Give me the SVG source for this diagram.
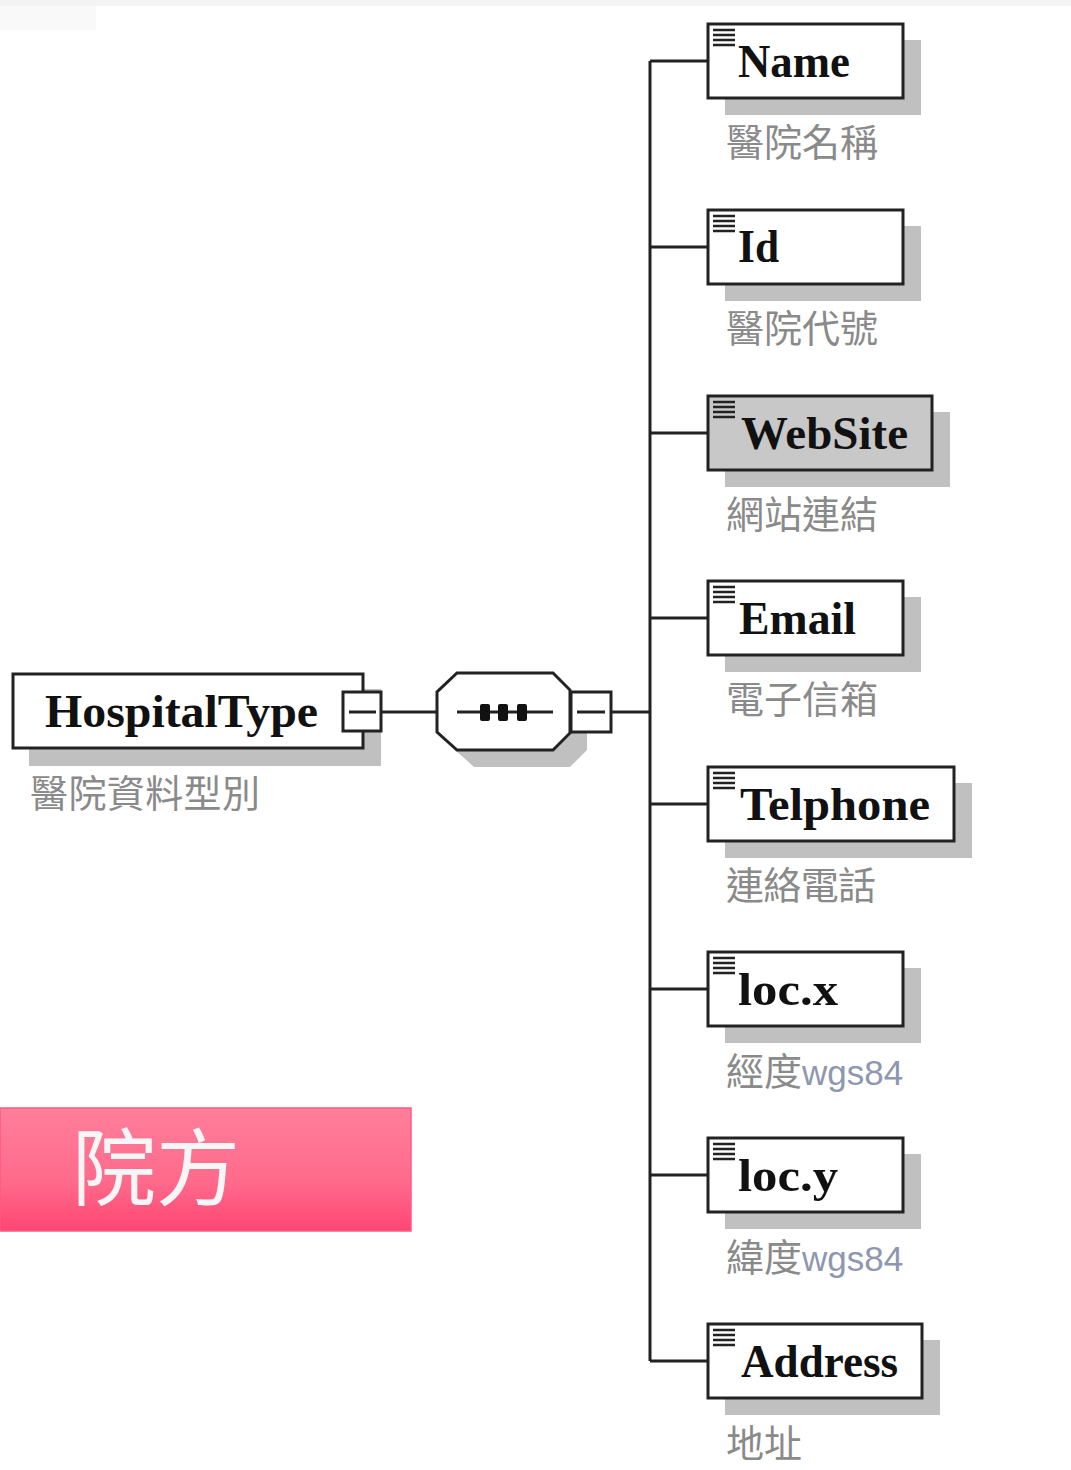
<svg xmlns="http://www.w3.org/2000/svg" width="1071" height="1470" viewBox="0 0 1071 1470">
<defs>
<linearGradient id="pink" x1="0" y1="0" x2="0" y2="1">
<stop offset="0" stop-color="#ff7f9b"/>
<stop offset="0.6" stop-color="#ff6a8b"/>
<stop offset="1" stop-color="#ff4674"/>
</linearGradient>
<g id="icon"><path d="M5 6h22M5 11h22M5 16h22M5 21h22" stroke="#222" stroke-width="2.4" fill="none"/></g>
</defs>
<style>
.box{fill:#fff;stroke:#222;stroke-width:3}
.shadow{fill:#c0c0c0}
.name{font-family:"Liberation Serif","Times New Roman",serif;font-weight:bold;font-size:47px;fill:#111}
.desc{font-family:"Liberation Sans","Noto Sans CJK TC",sans-serif;font-size:38px;fill:#8a8a8a}
.wgs{font-size:35px;fill:#8e97b0}
.wire{stroke:#222;stroke-width:3;fill:none}
</style>
<rect x="0" y="0" width="1071" height="6" fill="#f4f4f4"/>
<rect x="0" y="6" width="96" height="24" fill="#f9f9f9"/>

<g id="connectors">
<path class="wire" d="M381 712H440M611 712H650M650 61V1361"/>
<path class="wire" d="M650 61H708M650 247H708M650 433H708M650 618H708M650 804H708M650 989H708M650 1175H708M650 1361H708"/>
</g>

<g id="HospitalType">
<rect class="shadow" x="29" y="689" width="352" height="77"/>
<rect class="box" x="13" y="674" width="350" height="74"/>
<text class="name" x="45" y="727" textLength="273" lengthAdjust="spacingAndGlyphs">HospitalType</text>
<rect class="box" x="343" y="692" width="38" height="39"/>
<path class="wire" d="M349 712H376"/>
<text class="desc" x="30" y="807" textLength="230">醫院資料型別</text>
</g>

<g id="sequence">
<path class="shadow" d="M474 690H570L587 707V750L570 767H474L454 749V709Z"/>
<path d="M457 673H553L570 690V733L553 750H457L437 732V692Z" fill="#fff" stroke="#222" stroke-width="3"/>
<path class="wire" d="M457 712H553"/>
<rect x="480" y="704" width="10" height="17" rx="2" fill="#111"/>
<rect x="498" y="704" width="10" height="17" rx="2" fill="#111"/>
<rect x="517" y="704" width="10" height="17" rx="2" fill="#111"/>
<rect class="box" x="571" y="692" width="40" height="40"/>
<path class="wire" d="M577 712H605"/>
</g>

<g id="Name">
<rect class="shadow" x="725" y="40" width="196" height="75"/>
<rect class="box" x="708" y="24" width="195" height="74"/>
<use href="#icon" x="708" y="24"/>
<text class="name" x="738" y="77" textLength="112" lengthAdjust="spacingAndGlyphs">Name</text>
<text class="desc" x="726" y="156" textLength="152">醫院名稱</text>
</g>

<g id="Id">
<rect class="shadow" x="725" y="226" width="196" height="75"/>
<rect class="box" x="708" y="210" width="195" height="74"/>
<use href="#icon" x="708" y="210"/>
<text class="name" x="738" y="262" textLength="41" lengthAdjust="spacingAndGlyphs">Id</text>
<text class="desc" x="726" y="342" textLength="152">醫院代號</text>
</g>

<g id="WebSite">
<rect class="shadow" x="725" y="412" width="225" height="75"/>
<rect class="box" x="708" y="396" width="224" height="74" style="fill:#c8c8c8"/>
<use href="#icon" x="708" y="396"/>
<text class="name" x="741" y="449" textLength="167" lengthAdjust="spacingAndGlyphs">WebSite</text>
<text class="desc" x="726" y="528" textLength="152">網站連結</text>
</g>

<g id="Email">
<rect class="shadow" x="725" y="597" width="196" height="75"/>
<rect class="box" x="708" y="581" width="195" height="74"/>
<use href="#icon" x="708" y="581"/>
<text class="name" x="739" y="634" textLength="117" lengthAdjust="spacingAndGlyphs">Email</text>
<text class="desc" x="726" y="713" textLength="152">電子信箱</text>
</g>

<g id="Telphone">
<rect class="shadow" x="725" y="783" width="247" height="75"/>
<rect class="box" x="708" y="767" width="246" height="74"/>
<use href="#icon" x="708" y="767"/>
<text class="name" x="740" y="820" textLength="190" lengthAdjust="spacingAndGlyphs">Telphone</text>
<text class="desc" x="726" y="899" textLength="150">連絡電話</text>
</g>

<g id="locx">
<rect class="shadow" x="725" y="968" width="196" height="75"/>
<rect class="box" x="708" y="952" width="195" height="74"/>
<use href="#icon" x="708" y="952"/>
<text class="name" x="738" y="1005" textLength="100" lengthAdjust="spacingAndGlyphs">loc.x</text>
<text class="desc" x="726" y="1085">經度<tspan class="wgs">wgs84</tspan></text>
</g>

<g id="locy">
<rect class="shadow" x="725" y="1154" width="196" height="75"/>
<rect class="box" x="708" y="1138" width="195" height="74"/>
<use href="#icon" x="708" y="1138"/>
<text class="name" x="738" y="1191" textLength="100" lengthAdjust="spacingAndGlyphs">loc.y</text>
<text class="desc" x="726" y="1271">緯度<tspan class="wgs">wgs84</tspan></text>
</g>

<g id="Address">
<rect class="shadow" x="725" y="1340" width="215" height="75"/>
<rect class="box" x="708" y="1324" width="214" height="74"/>
<use href="#icon" x="708" y="1324"/>
<text class="name" x="741" y="1377" textLength="157" lengthAdjust="spacingAndGlyphs">Address</text>
<text class="desc" x="726" y="1457">地址</text>
</g>

<g id="banner">
<rect x="0" y="1108" width="411" height="123" fill="url(#pink)" stroke="#ff5a80" stroke-width="1.5"/>
<text x="72" y="1199" font-family="'Noto Sans CJK TC','Noto Sans CJK SC',sans-serif" font-size="84" fill="#f6f6f6">院方</text>
</g>
</svg>
